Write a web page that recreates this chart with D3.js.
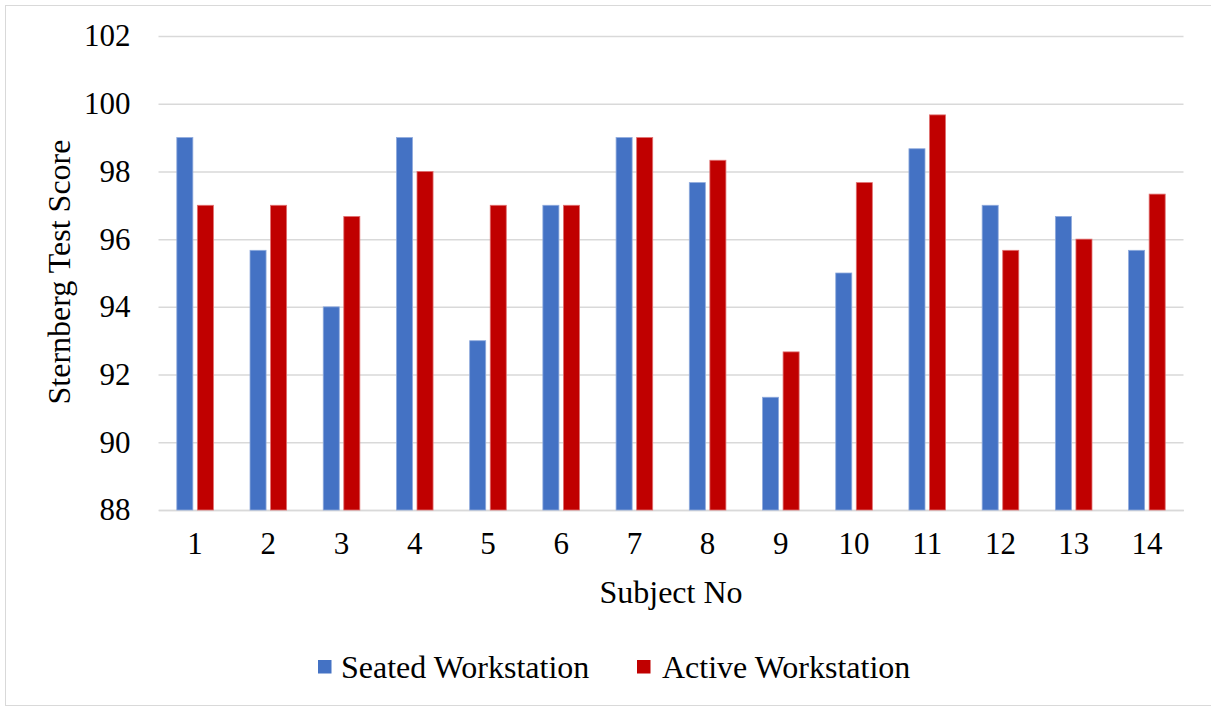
<!DOCTYPE html>
<html>
<head>
<meta charset="utf-8">
<script src="https://cdn.jsdelivr.net/npm/d3@7"></script>
<style>
  html, body { margin: 0; padding: 0; background: #fff; }
  text { font-family: "Liberation Serif", "Times New Roman", serif; fill: #000; }
</style>
</head>
<body>
<svg id="chart" width="1211" height="707"></svg>
<script>
const subjects = ["1","2","3","4","5","6","7","8","9","10","11","12","13","14"];
const seated = [99, 95.67, 94, 99, 93, 97, 99, 97.67, 91.33, 95, 98.67, 97, 96.67, 95.67];
const active = [97, 97, 96.67, 98, 97, 97, 99, 98.33, 92.67, 97.67, 99.67, 95.67, 96, 97.33];
const yTicks = [88, 90, 92, 94, 96, 98, 100, 102];
const seriesNames = ["Seated Workstation", "Active Workstation"];
const colors = ["#4472C4", "#C00000"];
const strokes = ["#8faadc", "#e07070"];

const svg = d3.select("#chart");
const W = 1211, H = 707;
const m = { left: 158.5, right: 1183.5, top: 36, bottom: 510 };

svg.append("rect").attr("x", 5.5).attr("y", 5.5).attr("width", W).attr("height", H - 7)
  .attr("fill", "#fff").attr("stroke", "#d9d9d9").attr("stroke-width", 1);

const x = d3.scaleBand().domain(subjects).range([m.left, m.right]).paddingInner(0.5).paddingOuter(0.25);
const y = d3.scaleLinear().domain([88, 102]).range([m.bottom, m.top]);

// gridlines
const yAxis = d3.axisLeft(y).tickValues(yTicks).tickSize(-(m.right - m.left)).tickPadding(28);
const gy = svg.append("g").attr("transform", `translate(${m.left},0)`).call(yAxis);
gy.select(".domain").remove();
gy.selectAll(".tick line").attr("stroke", "#d9d9d9").attr("stroke-width", 1.5);
gy.selectAll(".tick text").attr("font-size", 31).attr("font-family", "Liberation Serif");

// x axis
const xAxis = d3.axisBottom(x).tickSize(0).tickPadding(22);
const gx = svg.append("g").attr("transform", `translate(0,${m.bottom})`).call(xAxis);
gx.select(".domain").attr("stroke", "#d9d9d9").attr("stroke-width", 1.5);
gx.selectAll(".tick text").attr("font-size", 31).attr("font-family", "Liberation Serif");

const xs = d3.scaleBand().domain([0, 1]).range([0, x.bandwidth()]).paddingInner(0.22);

const data = [seated, active];
data.forEach((vals, si) => {
  svg.append("g").selectAll("rect").data(vals).join("rect")
    .attr("x", (d, i) => x(subjects[i]) + xs(si))
    .attr("width", xs.bandwidth())
    .attr("y", d => y(d))
    .attr("height", d => y(88) - y(d))
    .attr("fill", colors[si])
    .attr("stroke", strokes[si])
    .attr("stroke-width", 0.8);
});

// axis titles
svg.append("text").attr("x", (m.left + m.right) / 2).attr("y", 603)
  .attr("text-anchor", "middle").attr("font-size", 32).text("Subject No");
svg.append("text").attr("transform", `translate(70,272) rotate(-90)`)
  .attr("text-anchor", "middle").attr("font-size", 32).text("Sternberg Test Score");

// legend
const legend = svg.append("g");
const legendItems = [{ x: 318, tx: 341 }, { x: 637, tx: 662 }];
seriesNames.forEach((name, i) => {
  legend.append("rect").attr("x", legendItems[i].x).attr("y", 660).attr("width", 13.5).attr("height", 13.5)
    .attr("fill", colors[i]);
  legend.append("text").attr("x", legendItems[i].tx).attr("y", 678)
    .attr("font-size", 32).text(name);
});
</script>
</body>
</html>
